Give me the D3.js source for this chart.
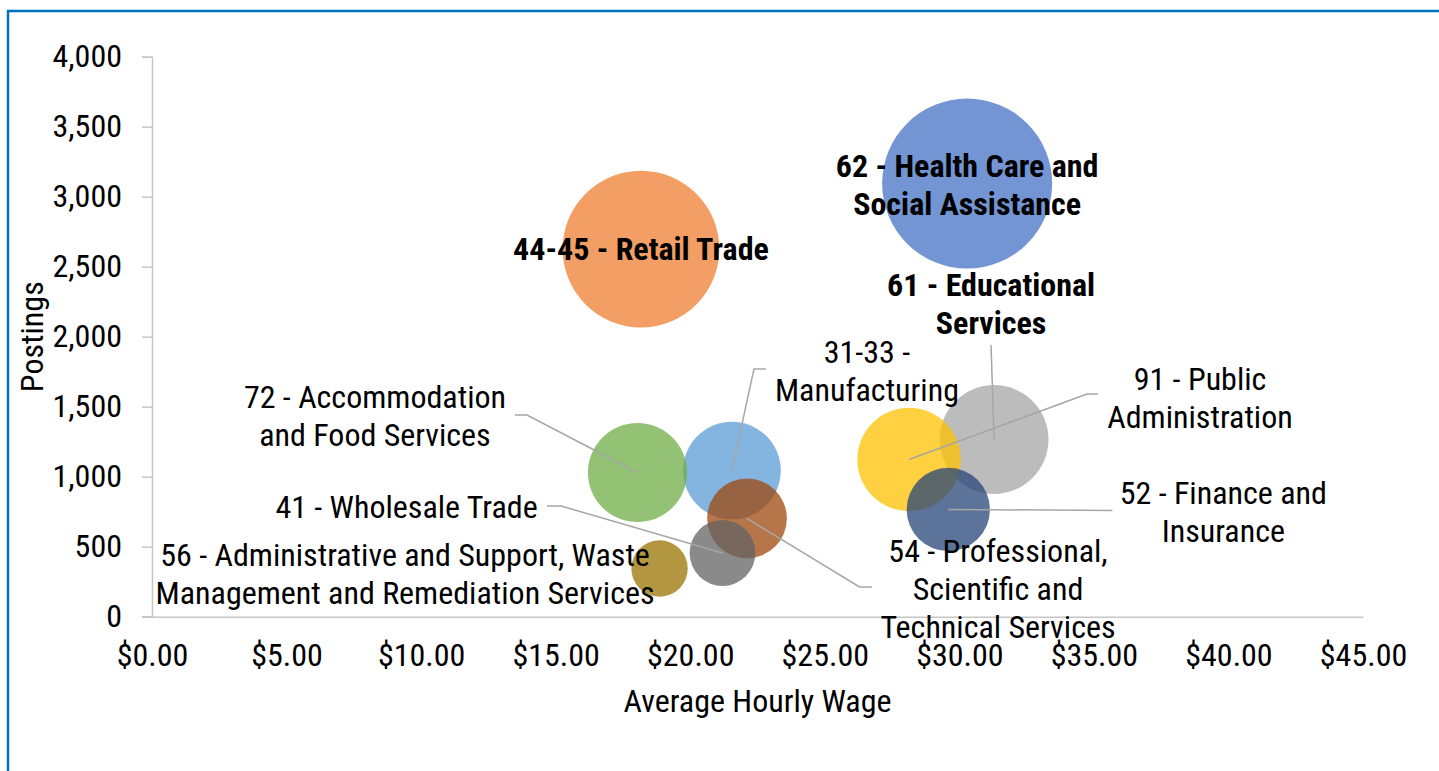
<!DOCTYPE html>
<html>
<head>
<meta charset="utf-8">
<script src="https://cdn.jsdelivr.net/npm/d3@7"></script>
<style>
  html, body { margin: 0; padding: 0; background: #fff; overflow: hidden; }
  text { font-family: "Roboto Condensed", Roboto, "Liberation Sans", sans-serif; }
</style>
</head>
<body>
<script>
// data
var industries = [
  "62 - Health Care and Social Assistance",
  "44-45 - Retail Trade",
  "61 - Educational Services",
  "91 - Public Administration",
  "31-33 - Manufacturing",
  "72 - Accommodation and Food Services",
  "52 - Finance and Insurance",
  "54 - Professional, Scientific and Technical Services",
  "41 - Wholesale Trade",
  "56 - Administrative and Support, Waste Management and Remediation Services"
];
var wages = [30.29, 18.17, 31.29, 28.13, 21.55, 18.04, 29.59, 22.11, 21.20, 18.86];
var postings = [3094, 2626, 1266, 1123, 1044, 1030, 766, 702, 455, 344];
var bubbleSizes = [100, 85, 41, 37, 33, 34, 24, 22, 15, 11];

// label text, as wrapped in the chart
var labelLines = [
  ["62 - Health Care and", "Social Assistance"],
  ["44-45 - Retail Trade"],
  ["61 - Educational", "Services"],
  ["91 - Public", "Administration"],
  ["31-33 -", "Manufacturing"],
  ["72 - Accommodation", "and Food Services"],
  ["52 - Finance and", "Insurance"],
  ["54 - Professional,", "Scientific and", "Technical Services"],
  ["41 - Wholesale Trade"],
  ["56 - Administrative and Support, Waste", "Management and Remediation Services"]
];
var boldLabels = [true, true, true, false, false, false, false, false, false, false];

var xTicks = [0, 5, 10, 15, 20, 25, 30, 35, 40, 45];
var yTicks = [0, 500, 1000, 1500, 2000, 2500, 3000, 3500, 4000];

// label placement relative to bubble centre (px): text centre / first baseline, leader points
var labelPlace = [
  {dx: 0, dy: -6.5, leader: null},
  {dx: 0, dy: 11, leader: null},
  {dx: -3, dy: -143.5, leader: [[0, 0], [-3, -94.5]]},
  {dx: 291, dy: -69.5, leader: [[0, 0], [178, -65.5], [189, -65.5]]},
  {dx: 135, dy: -107.5, leader: [[0, 0], [22, -101.5], [34, -101.5]]},
  {dx: -262.5, dy: -64.5, leader: [[0, 0], [-110.5, -57.5], [-122.5, -57.5]]},
  {dx: 275, dy: -5.5, leader: [[0, 0], [164, 1]]},
  {dx: 251, dy: 43.5, leader: [[0, 0], [112.5, 68.5], [125, 68.5]]},
  {dx: -316, dy: -35, leader: [[0, 0], [-161.5, -47], [-175.5, -47]]},
  {dx: -254.5, dy: -2.5, leader: null}
];

var colors = ["#4472c4", "#ed7d31", "#a5a5a5", "#ffc000", "#5b9bd5",
              "#70ad47", "#264478", "#9e480e", "#636363", "#997300"];

var W = 1439, H = 771;
var margin = {top: 56.7, right: 76, bottom: 154.3, left: 152};
var fontSize = "32px";

var svg = d3.select("body").append("svg")
    .attr("width", W)
    .attr("height", H);

// chart frame
svg.append("rect")
    .attr("x", 8).attr("y", 11)
    .attr("width", 1600).attr("height", 900)
    .attr("fill", "none")
    .attr("stroke", "#0070c0")
    .attr("stroke-width", 2.5);

var x = d3.scaleLinear().domain([0, 45]).range([margin.left, W - margin.right]);
var y = d3.scaleLinear().domain([0, 4000]).range([H - margin.bottom, margin.top]);
var r = d3.scaleSqrt().domain([0, 100]).range([0, 85]);

var data = industries.map(function(d, i) {
  return {name: d, wage: wages[i], posts: postings[i], size: bubbleSizes[i],
          lines: labelLines[i], bold: boldLabels[i], place: labelPlace[i], color: colors[i]};
});

// y axis
var yAxis = svg.append("g")
    .attr("transform", "translate(" + margin.left + ",0)")
    .call(d3.axisLeft(y).tickValues(yTicks).tickSize(10).tickPadding(20)
      .tickFormat(d3.format(",")));
yAxis.select(".domain").attr("stroke", "#c6c6c6").attr("stroke-width", 1.5);
yAxis.selectAll(".tick line").attr("stroke", "#c6c6c6").attr("stroke-width", 1.5);
yAxis.selectAll(".tick text")
    .attr("fill", "#000")
    .style("font-size", fontSize);

// x axis (no tick marks)
var xAxis = svg.append("g")
    .attr("transform", "translate(0," + y(0) + ")")
    .call(d3.axisBottom(x).tickValues(xTicks).tickSize(0).tickPadding(27)
      .tickFormat(function(d) { return "$" + d3.format(".2f")(d); }));
xAxis.select(".domain").attr("stroke", "#c6c6c6").attr("stroke-width", 1.5);
xAxis.selectAll(".tick text")
    .attr("fill", "#000")
    .style("font-size", fontSize);
// extend the x baseline into the y tick position
svg.append("line")
    .attr("x1", margin.left - 10).attr("x2", margin.left)
    .attr("y1", y(0)).attr("y2", y(0))
    .attr("stroke", "#c6c6c6").attr("stroke-width", 1.5);

// bubbles
svg.selectAll(".bubble")
    .data(data)
  .enter().append("circle")
    .attr("class", "bubble")
    .attr("cx", function(d) { return x(d.wage); })
    .attr("cy", function(d) { return y(d.posts); })
    .attr("r", function(d) { return r(d.size); })
    .attr("fill", function(d) { return d.color; })
    .attr("fill-opacity", 0.75);

// leader lines
var line = d3.line();
svg.selectAll(".leader")
    .data(data.filter(function(d) { return d.place.leader; }))
  .enter().append("path")
    .attr("class", "leader")
    .attr("d", function(d) {
      var cx = x(d.wage), cy = y(d.posts);
      return line(d.place.leader.map(function(p) { return [cx + p[0], cy + p[1]]; }));
    })
    .attr("fill", "none")
    .attr("stroke", "#a6a6a6")
    .attr("stroke-width", 1.5);

// data labels
var labels = svg.selectAll(".label")
    .data(data)
  .enter().append("text")
    .attr("class", "label")
    .attr("text-anchor", "middle")
    .attr("fill", "#000")
    .style("font-size", fontSize)
    .style("font-weight", function(d) { return d.bold ? 700 : 400; });

labels.each(function(d) {
  var cx = x(d.wage) + d.place.dx, cy = y(d.posts) + d.place.dy;
  d3.select(this).selectAll("tspan")
      .data(d.lines)
    .enter().append("tspan")
      .attr("x", cx)
      .attr("y", function(t, i) { return cy + i * 38; })
      .text(function(t) { return t; });
});

// axis titles
svg.append("text")
    .attr("text-anchor", "middle")
    .attr("transform", "translate(43," + (margin.top + (y(0) - margin.top) / 2) + ") rotate(-90)")
    .style("font-size", fontSize)
    .attr("fill", "#000")
    .text("Postings");

svg.append("text")
    .attr("text-anchor", "middle")
    .attr("x", (x(0) + x(45)) / 2)
    .attr("y", 712)
    .style("font-size", fontSize)
    .attr("fill", "#000")
    .text("Average Hourly Wage");
</script>
</body>
</html>
